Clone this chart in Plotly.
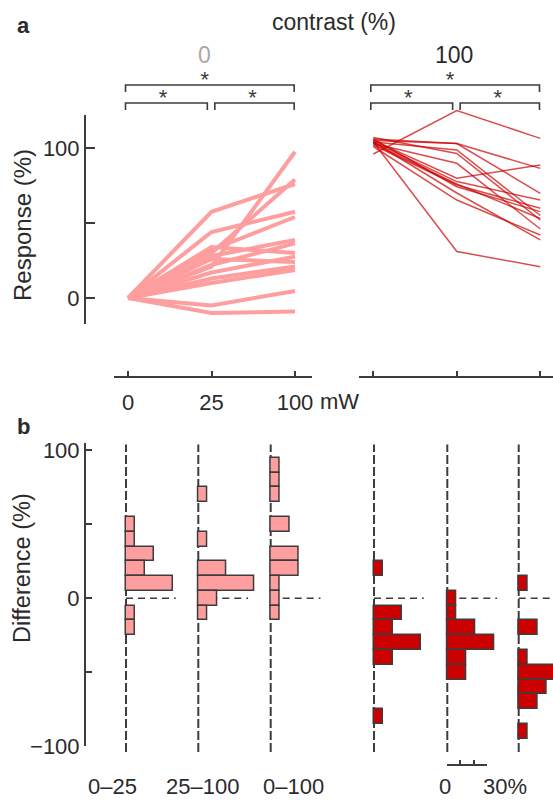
import plotly.graph_objects as go

# ---------------- data ----------------
power_labels = ['0', '25', '100']      # laser power (mW)
power_idx = [0, 1, 2]

# Panel a: normalised response (%) of each unit, contrast 0 %
c0_resp_0mW = [0, 0, 0, 0, 0, 0, 0, 0, 0, 0, 0, 0, 0, 0]
c0_resp_25mW = [21, 30, 57.5, 44, 32, 28, 22, 34, 17, 26, 13, 10, -5, -10]
c0_resp_100mW = [97.5, 79, 76, 57.5, 54, 38.7, 36.4, 30, 27.6, 24, 21, 18.7, 4.7, -9]

# Panel a: contrast 100 %
c100_resp_0mW = [96, 105, 106, 104, 107, 103, 105, 104, 102, 106, 103, 101, 104, 104]
c100_resp_25mW = [125, 103, 103, 98.7, 96.4, 89.8, 79.8, 77.6, 75.3, 74.2, 76, 65.3, 70, 31]
c100_resp_100mW = [106.4, 86.4, 69.8, 55, 52, 46, 88.7, 65.3, 59.8, 57.6, 53, 42, 38.7, 20.9]

# Panel b: histogram bins (difference, %) and share of units (%)
c0_d0_25_bins = [50, 40, 30, 20, 10, -10, -20]
c0_d0_25_pct = [7.1, 7.1, 21.4, 14.3, 35.7, 7.1, 7.1]
c0_d25_100_bins = [70, 40, 20, 10, 0, -10]
c0_d25_100_pct = [7.1, 7.1, 21.4, 42.9, 14.3, 7.1]
c0_d0_100_bins = [90, 80, 70, 50, 30, 20, 10, 0, -10]
c0_d0_100_pct = [7.1, 7.1, 7.1, 14.3, 21.4, 21.4, 7.1, 7.1, 7.1]
c100_d0_25_bins = [20, -10, -20, -30, -40, -80]
c100_d0_25_pct = [7.1, 21.4, 14.3, 35.7, 14.3, 7.1]
c100_d25_100_bins = [0, -10, -20, -30, -40, -50]
c100_d25_100_pct = [7.1, 7.1, 21.4, 35.7, 14.3, 14.3]
c100_d0_100_bins = [10, -20, -40, -50, -60, -70, -90]
c100_d0_100_pct = [7.1, 14.3, 7.1, 28.6, 21.4, 14.3, 7.1]

diff_labels = ['0–25', '25–100', '0–100']
bin_width = 10
scale_ticks = [0, 10, 20, 30]

# ---------------- layout helpers ----------------
W, H = 553, 800
def fx(px):
    return px / W
def fy(py):
    return 1 - py / H

FONT = 'Liberation Sans, Arial, Helvetica, sans-serif'
TXT = '#2b2b2b'
DARK = '#3c3c3c'
PINK = '#FF9E9E'
RED = '#CC0000'
RED_LINE = 'rgba(204,0,0,0.7)'

# panel a pixel geometry
A_X0 = 128.0      # px of 0 mW (left group)
B_X0 = 373.3      # px of 0 mW (right group)
A_DX = 83.5       # px per category step
A_Y0 = 298.0      # px of 0 %
A_DY = 1.5        # px per %

# panel b pixel geometry
B_Y0 = 598.3
B_DY = 1.4785
PXP = 1.31        # px per % of units
col_base_px = [126, 198.3, 270.7, 374, 447.3, 518.7]
col_right_px = [196, 268, 340, 444, 517, 553]

fig = go.Figure()

# ---- panel a lines ----
for a, b, c in zip(c0_resp_0mW, c0_resp_25mW, c0_resp_100mW):
    fig.add_trace(go.Scatter(x=power_idx, y=[a, b, c], mode='lines',
                             line=dict(color=PINK, width=4),
                             xaxis='x', yaxis='y', hoverinfo='skip', showlegend=False))
for a, b, c in zip(c100_resp_0mW, c100_resp_25mW, c100_resp_100mW):
    fig.add_trace(go.Scatter(x=power_idx, y=[a, b, c], mode='lines',
                             line=dict(color=RED_LINE, width=1.5),
                             xaxis='x2', yaxis='y2', hoverinfo='skip', showlegend=False))

# ---- significance brackets ----
br_top_v, br_top_end = 30, 23
br_low_v, br_low_end = 12, 5
spans = [(-0.03, 1.99, br_top_v, br_top_end),
         (-0.03, 0.95, br_low_v, br_low_end),
         (1.04, 1.99, br_low_v, br_low_end)]
star_x = [0.92, 0.42, 1.49]
star_y = [34, 16, 16]
for xa in ['x3', 'x4']:
    bx, by = [], []
    for s0, s1, v, e in spans:
        bx += [s0, s0, s1, s1, None]
        by += [e, v, v, e, None]
    fig.add_trace(go.Scatter(x=bx, y=by, mode='lines', line=dict(color=DARK, width=1.6),
                             xaxis=xa, yaxis='y3', hoverinfo='skip', showlegend=False))
    fig.add_trace(go.Scatter(x=star_x, y=star_y, mode='text', text=['*'] * 3,
                             textfont=dict(family=FONT, size=22, color=DARK),
                             cliponaxis=False,
                             xaxis=xa, yaxis='y3', hoverinfo='skip', showlegend=False))

# ---- panel b histograms ----
columns = [
    (c0_d0_25_bins, c0_d0_25_pct, PINK),
    (c0_d25_100_bins, c0_d25_100_pct, PINK),
    (c0_d0_100_bins, c0_d0_100_pct, PINK),
    (c100_d0_25_bins, c100_d0_25_pct, RED),
    (c100_d25_100_bins, c100_d25_100_pct, RED),
    (c100_d0_100_bins, c100_d0_100_pct, RED),
]
shapes = []
layout_axes = {}
for i, (bins, pct, col) in enumerate(columns):
    n = 5 + i
    ax = f'x{n}'
    b, r = col_base_px[i], col_right_px[i]
    layout_axes[f'xaxis{n}'] = dict(domain=[fx(b - 6), fx(r)], range=[-6 / PXP, (r - b) / PXP],
                                    visible=False, anchor='y5', fixedrange=True, automargin=False)
    fig.add_trace(go.Bar(y=bins, x=pct, orientation='h', width=bin_width,
                         marker=dict(color=col, line=dict(color=DARK, width=1.5)),
                         xaxis=ax, yaxis='y5', hoverinfo='skip', showlegend=False))
    shapes.append(dict(type='line', xref=ax, yref='y5', x0=0, x1=0, y0=-104, y1=104,
                       line=dict(color=DARK, width=2, dash='9px,3px'), layer='below'))
    shapes.append(dict(type='line', xref=ax, yref='y5', x0=0, x1=38, y0=0, y1=0,
                       line=dict(color=DARK, width=1.5, dash='7px,5px'), layer='below'))

# invisible helper traces so the free axes get drawn
fig.add_trace(go.Scatter(x=[0], y=[0], mode='markers', marker=dict(opacity=0),
                         xaxis='x5', yaxis='y6', hoverinfo='skip', showlegend=False))
fig.add_trace(go.Scatter(x=[0], y=[0], mode='markers', marker=dict(opacity=0),
                         xaxis='x11', yaxis='y5', hoverinfo='skip', showlegend=False))

axis_common = dict(showgrid=False, zeroline=False, showline=True, linecolor=DARK, linewidth=2,
                   tickcolor=DARK, tickwidth=1.6, tickfont=dict(family=FONT, size=22, color=TXT),
                   fixedrange=True, automargin=False)
hidden = dict(visible=False, fixedrange=True, automargin=False)

fig.update_layout(
    template='none',
    width=W, height=H, margin=dict(l=0, r=0, t=0, b=0, pad=0), autosize=False,
    paper_bgcolor='white', plot_bgcolor='rgba(0,0,0,0)',
    font=dict(family=FONT, size=22, color=TXT),
    showlegend=False, bargap=0,
    xaxis=dict(domain=[fx(113.6), fx(312)],
               range=[(113.6 - A_X0) / A_DX, (312 - A_X0) / A_DX],
               anchor='free', position=fy(377), tickvals=power_idx, ticktext=power_labels,
               ticks='inside', ticklen=5, ticklabelstandoff=6, **axis_common),
    yaxis=dict(domain=[fy(324), fy(115)],
               range=[(A_Y0 - 324) / A_DY, (A_Y0 - 115) / A_DY],
               anchor='free', position=fx(85), tickvals=[0, 50, 100], ticktext=['0', '', '100'],
               ticks='inside', ticklen=9, **axis_common),
    xaxis2=dict(domain=[fx(359), 1.0],
                range=[(359 - B_X0) / A_DX, (553 - B_X0) / A_DX],
                anchor='free', position=fy(377), tickvals=power_idx, showticklabels=False,
                ticks='inside', ticklen=5, **axis_common),
    yaxis2=dict(domain=[fy(330), fy(100)],
                range=[(A_Y0 - 330) / A_DY, (A_Y0 - 100) / A_DY],
                anchor='x2', **hidden),
    xaxis3=dict(domain=[fx(113.6), fx(312)],
                range=[(113.6 - A_X0) / A_DX, (312 - A_X0) / A_DX],
                anchor='y3', **hidden),
    xaxis4=dict(domain=[fx(359), 1.0],
                range=[(359 - B_X0) / A_DX, (553 - B_X0) / A_DX],
                anchor='y3', **hidden),
    yaxis3=dict(domain=[fy(115), fy(68)], range=[0, 47], anchor='x3', **hidden),
    yaxis5=dict(domain=[fy(752), fy(443)],
                range=[(B_Y0 - 752) / B_DY, (B_Y0 - 443) / B_DY],
                anchor='x5', **hidden),
    yaxis6=dict(domain=[fy(746.2), fy(443)],
                range=[-100, (B_Y0 - 443) / B_DY],
                anchor='free', position=fx(85),
                tickvals=[-100, -50, 0, 50, 100], ticktext=['−100', '', '0', '', '100'],
                ticks='inside', ticklen=6, **axis_common),
    xaxis11=dict(domain=[fx(col_base_px[4]), fx(col_base_px[4] + 30 * PXP)],
                 range=[0, 30], anchor='free', position=fy(765),
                 tickvals=scale_ticks, showticklabels=False,
                 ticks='inside', ticklen=4,
                 **{k: v for k, v in axis_common.items() if k != 'linewidth'}, linewidth=1.5),
    shapes=shapes,
)
fig.update_layout(**layout_axes)

ann = []
def text(x, y, s, size=22, color=TXT, bold=False, xanchor='center', angle=0):
    ann.append(dict(x=fx(x), y=fy(y), xref='paper', yref='paper', text=f'<b>{s}</b>' if bold else s,
                    showarrow=False, xanchor=xanchor, yanchor='middle', textangle=angle,
                    font=dict(family=FONT, size=size, color=color)))

text(23, 25, 'a', bold=True)
text(23, 427, 'b', bold=True)
text(334, 22, 'contrast (%)', size=23)
text(204, 55, '0', size=23, color='#a8a8a8')
text(454, 55, '100', size=23)
text(318, 402, 'mW', xanchor='left')
text(22, 225, 'Response (%)', size=24, angle=-90)
text(22, 568, 'Difference (%)', size=23.5, angle=-90)
for lbl, cx in zip(diff_labels, [112.5, 202, 293]):
    text(cx, 786, lbl)
text(445, 786, '0')
text(481, 786, '30%', xanchor='left')
fig.update_layout(annotations=ann)

fig.write_html('out.html')
